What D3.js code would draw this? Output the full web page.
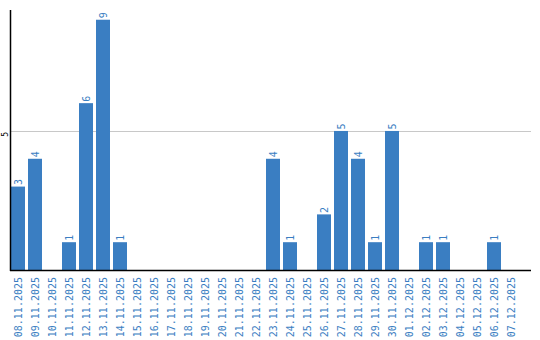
<!DOCTYPE html>
<html>
<head>
<meta charset="utf-8">
<script src="https://cdn.jsdelivr.net/npm/d3@7"></script>
<style>
  body { margin: 0; background: #fff; }
  svg { display: block; font-family: "DejaVu Sans Mono", monospace; }
</style>
</head>
<body>
<svg id="chart" width="540" height="340"></svg>
<script>
// dates shown on the x axis
const days = [
  "08.11.2025", "09.11.2025", "10.11.2025", "11.11.2025", "12.11.2025",
  "13.11.2025", "14.11.2025", "15.11.2025", "16.11.2025", "17.11.2025",
  "18.11.2025", "19.11.2025", "20.11.2025", "21.11.2025", "22.11.2025",
  "23.11.2025", "24.11.2025", "25.11.2025", "26.11.2025", "27.11.2025",
  "28.11.2025", "29.11.2025", "30.11.2025", "01.12.2025", "02.12.2025",
  "03.12.2025", "04.12.2025", "05.12.2025", "06.12.2025", "07.12.2025"
];
// count per day
const counts = [3, 4, 0, 1, 6, 9, 1, 0, 0, 0, 0, 0, 0, 0, 0, 4, 1, 0, 2, 5, 4, 1, 5, 0, 1, 1, 0, 0, 1, 0];
const yTicks = [5];

const blue = "#3a7ec2";
const font = "DejaVu Sans Mono, monospace";
const svg = d3.select("#chart");

const x = d3.scaleBand()
  .domain(days)
  .range([11, 518])
  .paddingInner(3 / 17)
  .paddingOuter(0);

const y = d3.scaleLinear()
  .domain([0, 9.35])
  .range([270, 10]);

// grid line
svg.selectAll(".grid")
  .data(yTicks)
  .enter()
  .append("line")
  .attr("class", "grid")
  .attr("x1", 11)
  .attr("x2", 531)
  .attr("y1", (d) => Math.round(y(d)) + 0.5)
  .attr("y2", (d) => Math.round(y(d)) + 0.5)
  .attr("stroke", "#c8c8c8");

const data = days.map((d, i) => ({ day: d, value: counts[i] }));

// bars
svg.selectAll(".bar")
  .data(data.filter((d) => d.value > 0))
  .enter()
  .append("rect")
  .attr("class", "bar")
  .attr("x", (d) => x(d.day))
  .attr("y", (d) => y(d.value))
  .attr("width", x.bandwidth())
  .attr("height", (d) => y(0) - y(d.value))
  .attr("fill", blue);

// value labels, rotated
svg.selectAll(".val")
  .data(data.filter((d) => d.value > 0))
  .enter()
  .append("text")
  .attr("class", "val")
  .attr("transform", (d) => `translate(${x(d.day) + x.bandwidth() / 2 + 4},${y(d.value) - 1.5}) rotate(-90)`)
  .attr("font-family", font)
  .attr("font-size", "10px")
  .attr("fill", blue)
  .text((d) => d.value);

// x axis
const xAxis = svg.append("g")
  .attr("transform", "translate(0,270)")
  .call(d3.axisBottom(x).tickSize(0).tickPadding(0));
xAxis.select(".domain").remove();
xAxis.append("line")
  .attr("x1", 10).attr("x2", 531)
  .attr("y1", 0.5).attr("y2", 0.5)
  .attr("stroke", "#000")
  .attr("stroke-width", 1.5);
xAxis.selectAll(".tick text")
  .attr("font-family", font)
  .attr("font-size", "10px")
  .attr("fill", blue)
  .attr("text-anchor", "end")
  .attr("transform", "translate(3.5,7) rotate(-90)")
  .attr("x", 0)
  .attr("y", 0)
  .attr("dy", 0);

// y axis
const yAxis = svg.append("g")
  .attr("transform", "translate(10.5,0)")
  .call(d3.axisLeft(y).tickValues(yTicks).tickSize(0).tickPadding(0));
yAxis.select(".domain").remove();
yAxis.append("line")
  .attr("x1", 0).attr("x2", 0)
  .attr("y1", 10).attr("y2", 271)
  .attr("stroke", "#000")
  .attr("stroke-width", 1.5);
yAxis.selectAll(".tick text")
  .attr("font-family", font)
  .attr("font-size", "8px")
  .attr("fill", "#000")
  .attr("text-anchor", "end")
  .attr("x", 0)
  .attr("dy", 0)
  .attr("transform", "translate(-3,0.5) rotate(-90)");
</script>
</body>
</html>
